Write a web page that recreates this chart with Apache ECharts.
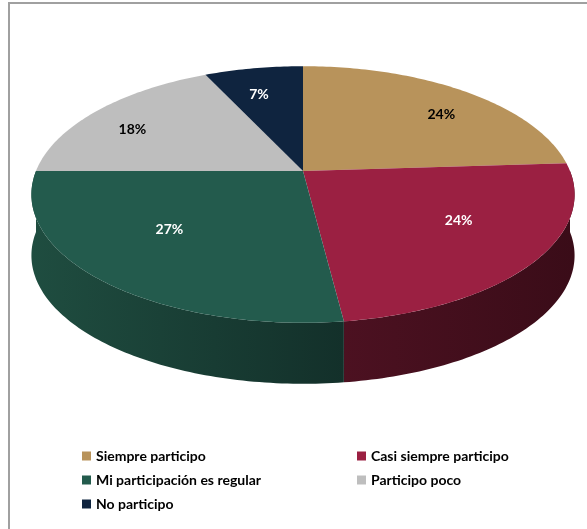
<!DOCTYPE html>
<html>
<head>
<meta charset="utf-8">
<script src="https://cdn.jsdelivr.net/npm/echarts@6/dist/echarts.min.js"></script>
<style>
  html, body { margin: 0; padding: 0; background: #fff; }
  #chart { width: 587px; height: 529px; }
</style>
</head>
<body>
<div id="chart"></div>
<script>
const categories = ["Siempre participo", "Casi siempre participo", "Mi participación es regular", "Participo poco", "No participo"];
const values = [24, 24, 27, 18, 7];
const topColors = ["#B8935B", "#9B2042", "#235B4D", "#BEBEBE", "#0F243F"];
const sideColors = [["#7A5F38", "#6A5230"], ["#4C1121", "#3A0C18"], ["#1F4D40", "#13302A"], ["#7D7D7D", "#6A6A6A"], ["#0A1829", "#07121F"]];
const labelColors = ["#000", "#fff", "#fff", "#000", "#fff"];

// 3d pie geometry (tilted disc seen in perspective)
const CX = 303, CY = 171, RX = 267, RY = 124, PERSP = 0.183, DEPTH = 61;
const LABEL_RX = 202, LABEL_RY = 78;
const FONT = "Lato, 'Liberation Sans', sans-serif";

const total = values.reduce((a, b) => a + b, 0);
const starts = [];
values.reduce((acc, v, i) => { starts[i] = acc; return acc + v; }, 0);

const rad = (deg) => deg * Math.PI / 180;
const project = (deg, r = 1) => {
  const u = r * Math.sin(rad(deg));
  const v = -r * Math.cos(rad(deg));
  const d = 1 - PERSP * v;
  return [CX + RX * u / d, CY + RY * v / d];
};
const arc = (a, b) => {
  const pts = [];
  const n = Math.max(2, Math.ceil(b - a));
  for (let i = 0; i <= n; i++) pts.push(project(a + (b - a) * i / n));
  return pts;
};

const renderItem = (params, api) => {
  const i = params.seriesIndex;
  const a = starts[i] / total * 360;
  const b = a + api.value(0) / total * 360;
  const children = [];

  // visible side wall (front half only)
  const s = Math.max(a, 90), e = Math.min(b, 270);
  if (s < e) {
    const upper = arc(s, e);
    const lower = upper.map((p) => [p[0], p[1] + DEPTH]).reverse();
    children.push({
      type: "polygon",
      z2: 1,
      shape: { points: upper.concat(lower) },
      style: {
        fill: new echarts.graphic.LinearGradient(0, 0, 1, 0, [
          { offset: 0, color: sideColors[i][0] },
          { offset: 1, color: sideColors[i][1] },
        ]),
      },
    });
  }

  // top face
  children.push({
    type: "polygon",
    z2: 10,
    shape: { points: [[CX, CY]].concat(arc(a, b)) },
    style: { fill: topColors[i] },
  });

  // percentage label
  const mid = rad((a + b) / 2);
  children.push({
    type: "text",
    z2: 20,
    x: CX + LABEL_RX * Math.sin(mid),
    y: CY - LABEL_RY * Math.cos(mid),
    style: {
      text: Math.round(api.value(0) / total * 100) + "%",
      fill: labelColors[i],
      font: "bold 14px " + FONT,
      align: "center",
      verticalAlign: "middle",
    },
  });

  return { type: "group", children };
};

const legendBase = {
  orient: "vertical",
  top: 444,
  icon: "rect",
  itemWidth: 9,
  itemHeight: 9,
  itemGap: 10,
  selectedMode: false,
  textStyle: { fontFamily: FONT, fontWeight: "bold", fontSize: 14, lineHeight: 14, color: "#000" },
};
const legendItem = (i) => ({ name: categories[i], itemStyle: { color: topColors[i] } });

const chart = echarts.init(document.getElementById("chart"), null, { renderer: "canvas" });
chart.setOption({
  backgroundColor: "#fff",
  animation: false,
  legend: [
    { ...legendBase, left: 77, data: [0, 2, 4].map(legendItem) },
    { ...legendBase, left: 352, data: [1, 3].map(legendItem) },
  ],
  graphic: [
    {
      type: "polyline",
      silent: true,
      shape: { points: [[9, 529], [9, 3], [587, 3]] },
      style: { stroke: "#A0A0A0", lineWidth: 2, fill: null },
    },
  ],
  series: categories.map((name, i) => ({
    type: "custom",
    name,
    coordinateSystem: "none",
    silent: true,
    itemStyle: { color: topColors[i] },
    data: [values[i]],
    renderItem,
  })),
});
</script>
</body>
</html>
